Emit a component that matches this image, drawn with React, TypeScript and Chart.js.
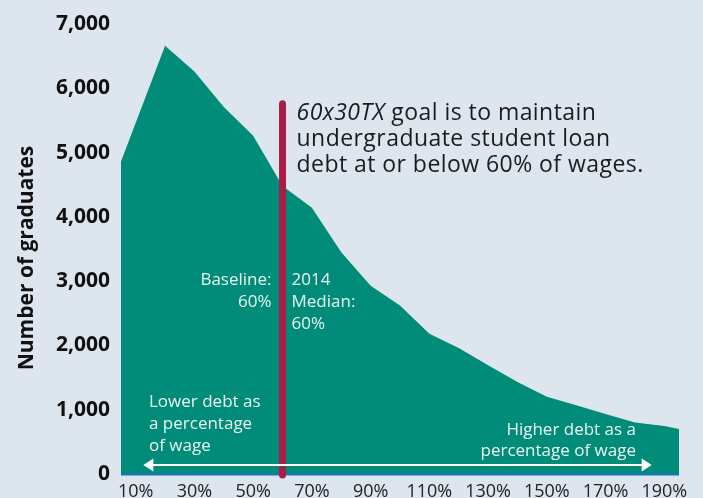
import React, { useEffect, useRef } from "react";
import { Chart, registerables } from "chart.js";

Chart.register(...registerables);

// ---- data ----
const debtToWagePct = [5, 20, 30, 40, 50, 60, 70, 80, 90, 100, 110, 120, 130, 140, 150, 160, 170, 180, 190, 195];
const graduates = [4860, 6660, 6260, 5710, 5260, 4480, 4140, 3450, 2930, 2620, 2180, 1960, 1690, 1430, 1200, 1070, 935, 800, 745, 700];
const xTickValues = [10, 30, 50, 70, 90, 110, 130, 150, 170, 190];
const yTickValues = [0, 1000, 2000, 3000, 4000, 5000, 6000, 7000];
const goalPct = 60;
const goalLineTopValue = 5760;
const arrowFromPct = 12.6;
const arrowToPct = 185.7;
const arrowValue = 140;

const goalItalic = "60x30TX";
const goalLines = [" goal is to maintain", "undergraduate student loan", "debt at or below 60% of wages."];
const baselineLines = ["Baseline:", "60%"];
const medianLines = ["2014", "Median:", "60%"];
const lowerLines = ["Lower debt as", "a percentage", "of wage"];
const higherLines = ["Higher debt as a", "percentage of wage"];
const yTitle = "Number of graduates";

// ---- styles ----
const BG = "#dde6ef";
const GREEN = "#008c79";
const RED = "#a81e46";
const BLUE = "#1f6fc6";
const WHITE_TEXT = "#eaf4f0";
const DARK = "#1b1b1b";
const FONT = "'Open Sans', sans-serif";

const overlayPlugin = {
  id: "overlay",
  afterDatasetsDraw(chart: any) {
    const { ctx, scales, chartArea } = chart;
    const xs = scales.x;
    const ys = scales.y;
    const y0 = ys.getPixelForValue(0);
    ctx.save();

    // blue baseline
    ctx.strokeStyle = BLUE;
    ctx.lineWidth = 2;
    ctx.beginPath();
    ctx.moveTo(chartArea.left, y0 + 0.5);
    ctx.lineTo(chartArea.right, y0 + 0.5);
    ctx.stroke();

    // red goal line
    const gx = xs.getPixelForValue(goalPct);
    ctx.strokeStyle = RED;
    ctx.lineWidth = 7;
    ctx.lineCap = "round";
    ctx.beginPath();
    ctx.moveTo(gx, ys.getPixelForValue(goalLineTopValue));
    ctx.lineTo(gx, y0 + 1);
    ctx.stroke();

    // white double arrow
    const ay = ys.getPixelForValue(arrowValue);
    const ax1 = xs.getPixelForValue(arrowFromPct);
    const ax2 = xs.getPixelForValue(arrowToPct);
    ctx.strokeStyle = "#ffffff";
    ctx.fillStyle = "#ffffff";
    ctx.lineWidth = 2;
    ctx.lineCap = "butt";
    ctx.beginPath();
    ctx.moveTo(ax1 + 8, ay);
    ctx.lineTo(ax2 - 8, ay);
    ctx.stroke();
    ctx.beginPath();
    ctx.moveTo(ax1, ay);
    ctx.lineTo(ax1 + 10, ay - 6.5);
    ctx.lineTo(ax1 + 10, ay + 6.5);
    ctx.closePath();
    ctx.fill();
    ctx.beginPath();
    ctx.moveTo(ax2, ay);
    ctx.lineTo(ax2 - 10, ay - 6.5);
    ctx.lineTo(ax2 - 10, ay + 6.5);
    ctx.closePath();
    ctx.fill();

    // goal text
    ctx.textBaseline = "alphabetic";
    ctx.textAlign = "left";
    ctx.fillStyle = DARK;
    const tx = gx + 14;
    (ctx as any).letterSpacing = "0.45px";
    ctx.font = `italic 23px ${FONT}`;
    ctx.fillText(goalItalic, tx, 120);
    const iw = ctx.measureText(goalItalic).width;
    ctx.font = `23px ${FONT}`;
    ctx.fillText(goalLines[0], tx + iw, 120);
    ctx.fillText(goalLines[1], tx, 146);
    ctx.fillText(goalLines[2], tx, 172);
    (ctx as any).letterSpacing = "0px";

    // white labels
    ctx.font = `17px ${FONT}`;
    ctx.fillStyle = WHITE_TEXT;
    ctx.textAlign = "right";
    baselineLines.forEach((t, i) => ctx.fillText(t, gx - 11, 285 + i * 22));
    ctx.textAlign = "left";
    medianLines.forEach((t, i) => ctx.fillText(t, gx + 9, 285 + i * 22));
    lowerLines.forEach((t, i) => ctx.fillText(t, 149, 407 + i * 22));
    ctx.textAlign = "right";
    higherLines.forEach((t, i) => ctx.fillText(t, 636, 435 + i * 21));

    // y title
    ctx.fillStyle = "#111111";
    ctx.font = `bold 21px ${FONT}`;
    ctx.textAlign = "center";
    ctx.textBaseline = "middle";
    ctx.translate(27, 258);
    ctx.rotate(-Math.PI / 2);
    ctx.fillText(yTitle, 0, 0);

    ctx.restore();
  },
};

export default function App() {
  const ref = useRef<HTMLCanvasElement | null>(null);

  useEffect(() => {
    document.body.style.margin = "0";
    document.body.style.background = BG;
    const canvas = ref.current;
    if (!canvas) return;
    const chart = new Chart(canvas, {
      type: "line",
      data: {
        datasets: [
          {
            data: debtToWagePct.map((x, i) => ({ x, y: graduates[i] })),
            fill: "origin",
            backgroundColor: GREEN,
            borderWidth: 0,
            borderColor: GREEN,
            pointRadius: 0,
            tension: 0,
          },
        ],
      },
      options: {
        animation: false,
        responsive: false,
        layout: { padding: { top: 24, right: 24, left: 0, bottom: 0 } },
        plugins: {
          legend: { display: false },
          tooltip: { enabled: false },
        },
        scales: {
          x: {
            type: "linear",
            min: 5,
            max: 195,
            grid: { display: false, drawTicks: false },
            border: { display: false },
            afterBuildTicks: (s: any) => {
              s.ticks = xTickValues.map((v) => ({ value: v }));
            },
            afterFit: (s: any) => {
              s.height = 24;
            },
            ticks: {
              autoSkip: false,
              maxRotation: 0,
              padding: 7,
              color: "#222222",
              font: { family: FONT, size: 18 },
              callback: (v: any) => `${v}%`,
            },
          },
          y: {
            type: "linear",
            min: 0,
            max: 7000,
            grid: { display: false, drawTicks: false },
            border: { display: false },
            afterBuildTicks: (s: any) => {
              s.ticks = yTickValues.map((v) => ({ value: v }));
            },
            afterFit: (s: any) => {
              s.width = 121;
            },
            ticks: {
              padding: 11,
              color: "#111111",
              font: { family: FONT, size: 21, weight: "bold" },
              callback: (v: any) => Number(v).toLocaleString("en-US"),
            },
          },
        },
      },
      plugins: [overlayPlugin],
    });
    return () => chart.destroy();
  }, []);

  return (
    <div style={{ width: 703, height: 498, background: BG }}>
      <canvas ref={ref} width={703} height={498} style={{ display: "block" }} />
    </div>
  );
}
